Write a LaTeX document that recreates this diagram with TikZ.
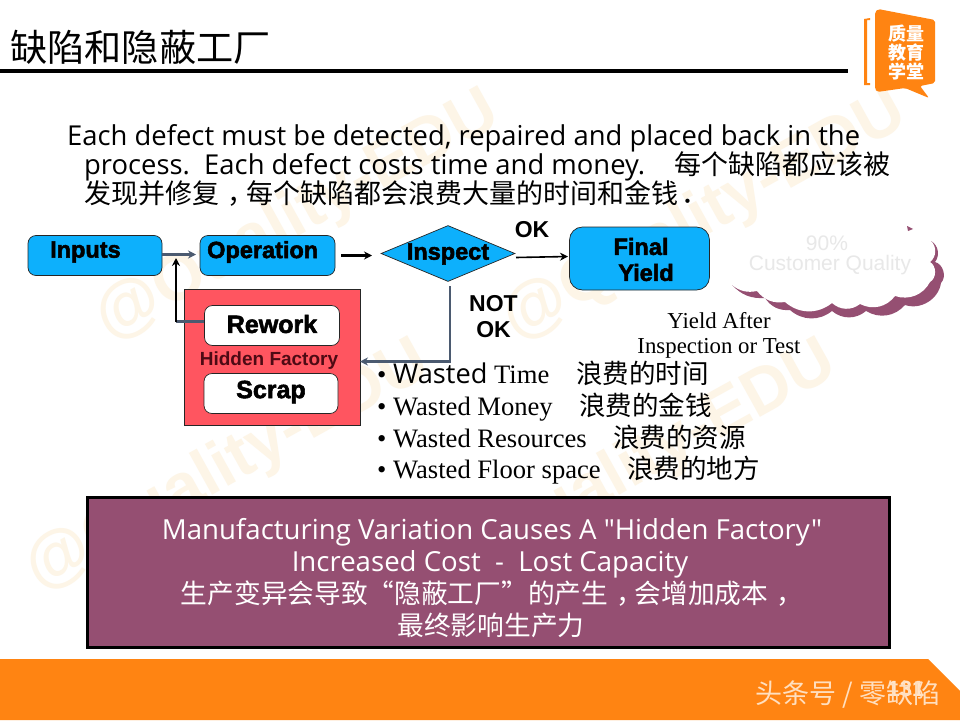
\documentclass[tikz,border=0pt]{standalone}
\usepackage{fontspec}
\setmainfont{Liberation Serif}
\setsansfont{Liberation Sans}
\newfontfamily\osans{Open Sans}
\newfontfamily\cjk{Noto Sans CJK SC}
\newfontfamily\heavy[FakeBold=2.2]{Liberation Sans Bold}
\usetikzlibrary{shapes.geometric,arrows.meta}
\newcommand{\fs}[1]{\fontsize{#1}{#1}\selectfont}
\newcommand{\fsb}[2]{\fontsize{#1}{#2}\selectfont}
\newcommand{\ccomma}{\hspace*{8pt}，\hspace*{-8pt}}
\definecolor{blueb}{HTML}{0DB0FC}
\definecolor{plum}{HTML}{954F72}
\definecolor{redb}{HTML}{FF5560}
\definecolor{orangeb}{HTML}{FF8412}
\definecolor{slate}{HTML}{4B5A70}
\definecolor{wm}{HTML}{FDF5E7}
\definecolor{maroon}{HTML}{4E0A14}
\tikzset{
  x=1pt,y=-1pt,
  flowbox/.style={draw=black!85,line width=.7pt,fill=blueb,rounded corners=8pt,inner sep=0},
  whitebox/.style={draw=black!85,line width=.7pt,fill=white,rounded corners=8pt,inner sep=0},
  boldlab/.style={font=\heavy\fs{23.5},text=black,inner sep=0},
  txt/.style={anchor=base west,inner sep=0,text=black},
  bodyline/.style={txt,font=\osans\fs{27.4}},
  bull/.style={txt,font=\rmfamily\fs{26.6}},
  bullc/.style={txt,font=\cjk\fs{26.5}},
  wmark/.style={rotate=29,font=\sffamily\bfseries\fs{66},text=wm,inner sep=0},
  flowarrow/.style={-{Stealth[length=8pt,width=8pt]},line width=2.2pt},
  boxline/.style={anchor=base,font=\osans\fs{27.6},text=white,inner sep=0},
  boxcjk/.style={anchor=base,font=\cjk\fs{26.7},text=white,inner sep=0},
}
\begin{document}
\begin{tikzpicture}
\useasboundingbox (0,0) rectangle (960,720);
\fill[white] (0,0) rectangle (960,720);
% watermarks
\node[wmark] (w1) at (298,217) {@Quality-EDU};
\node[wmark] (w2) at (705,217) {@Quality-EDU};
\node[wmark] (w3) at (228,467) {@Quality-EDU};
\node[wmark] (w4) at (635,467) {@Quality-EDU};
% title
\node[txt,font=\cjk\fs{37.2}] (title) at (10,61) {缺陷和隐蔽工厂};
\fill[black] (0,69) rectangle (848,73);
% logo
\fill[orangeb] (864,19) -- (870,18) -- (870,20) -- (867,20) -- (867,83) -- (870,83) -- (870,85) -- (864,85) -- cycle;
\fill[orangeb,rounded corners=2pt] (875,12) -- (878,9) -- (935,20) -- (935,83) -- (920,86) -- (929,98) -- (905,88) -- (877,92) -- (875,89) -- cycle;
\node[font=\cjk\bfseries\fsb{18}{19},text=white,align=center,inner sep=0] (logo) at (906,52) {质量\\ 教育\\ 学堂};
% paragraph
\node[bodyline] (p1) at (67,145) {Each defect must be detected, repaired and placed back in the};
\node[bodyline] (p2) at (84,174) {process.\ \ Each defect costs time and money.\ \ \ {\cjk\fs{27} 每个缺陷都应该被}};
\node[bodyline,font=\cjk\fs{27}] (p3) at (84,203) {发现并修复\ccomma 每个缺陷都会浪费大量的时间和金钱\hspace*{3pt}．};
% flow
\node[flowbox,minimum width=134pt,minimum height=40pt] (inputs) at (95,255.5) {};
\node[boldlab,anchor=west] (inputst) at (50,252) {Inputs};
\node[flowbox,minimum width=135pt,minimum height=40pt] (oper) at (267.5,255.5) {};
\node[boldlab,anchor=west] (opert) at (207,252) {Operation};
\node[diamond,aspect=2.35,draw=black!85,line width=.7pt,fill=blueb,inner sep=0,minimum width=134pt,minimum height=56pt] (insp) at (448,253.5) {};
\node[boldlab] (inspt) at (448,254) {Inspect};
\node[flowbox,rounded corners=13pt,minimum width=140pt,minimum height=63pt] (final) at (639.5,258.5) {};
\node[boldlab] (finalt) at (641,246.5) {Final};
\node[boldlab] (finalt2) at (646,272.5) {Yield};
\node[draw=black!85,line width=.7pt,fill=redb,minimum width=176pt,minimum height=136pt,inner sep=0] (hidden) at (272,357.5) {};
\node[whitebox,minimum width=135pt,minimum height=40pt] (rework) at (272,325.5) {};
\node[boldlab,font=\heavy\fs{25}] (reworkt) at (272,324) {Rework};
\node[whitebox,minimum width=134pt,minimum height=40pt] (scrap) at (271,393.5) {};
\node[boldlab,font=\heavy\fs{25}] (scrapt) at (271,392) {Scrap};
\node[font=\sffamily\bfseries\fs{19},text=maroon,inner sep=0] (hf) at (269,360.5) {Hidden Factory};
\coordinate (joinA) at (196,254.5);
\coordinate (turnA) at (176,321.5);
\coordinate (upA) at (176,258);
\coordinate (opOut) at (341,255.5);
\coordinate (opIn) at (372,255.5);
\coordinate (okA) at (516,257.5);
\coordinate (okB) at (568,256.5);
\coordinate (nokA) at (450,286);
\coordinate (nokB) at (450,361.5);
\coordinate (inR) at (360,361.5);
\draw[slate,flowarrow] (inputs.east |- joinA) -- (joinA);
\draw[black,flowarrow] (opOut) -- (opIn);
\draw[black,flowarrow,line width=1.6pt] (okA) -- (okB);
\draw[slate,flowarrow] (nokA) -- (nokB) -- (inR);
\draw[slate,line width=2.2pt] (rework.west |- turnA) -- (turnA);
\draw[black,flowarrow,line cap=butt] (turnA) -- (upA);
% labels
\node[font=\sffamily\bfseries\fs{23},inner sep=0] (ok) at (532,230) {OK};
\node[font=\sffamily\bfseries\fsb{23}{26},inner sep=0,align=center] (nok) at (493.5,317) {NOT\\ OK};
\node[font=\rmfamily\fsb{22.8}{25},inner sep=0,align=center] (ya) at (719,335) {Yield After\\ Inspection or Test};
% cloud
\fill[plum] (732,285) to[bend right=25] (765,298) to[bend right=30] (790,310) to[bend right=40] (832,311) to[bend right=40] (866,311) to[bend right=40] (905,305) to[bend right=50] (941,283) to[bend right=60] (935,262) to[bend right=50] (931,241) -- (900,240) -- (760,270) -- cycle;
\fill[white] (732,285) to[bend right=25] (757,291) to[bend right=30] (785,302) to[bend right=40] (832,303) to[bend right=40] (860,304) to[bend right=40] (895,296) to[bend right=40] (930,282) to[bend right=60] (930,262) to[bend right=50] (931,241) -- (925,220) -- (875,205) -- (740,230) -- (725,262) -- cycle;
\fill[plum] (907,226) -- (913,229) -- (908,231) -- cycle;
\node[font=\sffamily\fs{21},text=black!9,inner sep=0] (q1) at (827,243) {90\%};
\node[font=\sffamily\fs{21},text=black!9,inner sep=0] (q2) at (830,265) {Customer Quality};
% bullets
\node[bull] (b1) at (377,383) {• {\osans\fs{27.2}Wasted} Time};
\node[bull] (b2) at (377,415) {• Wasted Money};
\node[bull] (b3) at (377,447) {• Wasted Resources};
\node[bull] (b4) at (377,478.5) {• Wasted Floor space};
\node[bullc] (c1) at (576,383) {浪费的时间};
\node[bullc] (c2) at (579,415) {浪费的金钱};
\node[bullc] (c3) at (613,447) {浪费的资源};
\node[bullc] (c4) at (627,478.5) {浪费的地方};
% purple box
\node[draw=black,line width=3pt,fill=plum,minimum width=802pt,minimum height=150pt,inner sep=0] (pbox) at (488,572) {};
\node[boxline] (l1) at (492,539.5) {Manufacturing Variation Causes A "Hidden Factory"};
\node[boxline] (l2) at (490,571.5) {Increased Cost\ \ -\ \ Lost Capacity};
\node[boxcjk] (l3) at (488,603) {生产变异会导致“隐蔽工厂”的产生\ccomma 会增加成本\ccomma};
\node[boxcjk] (l4) at (491,635) {最终影响生产力};
% footer
\fill[orangeb] (0,659) -- (928,659) -- (960,691) -- (960,720) -- (0,720) -- cycle;
\node[font=\sffamily\bfseries\fs{22},text=white!80!orange,inner sep=0] (pg) at (906,689) {131};
\node[font=\cjk\fs{27},text=white!75!orange,inner sep=0] (src) at (848,695) {头条号\ /\ 零缺陷};
\end{tikzpicture}
\end{document}
